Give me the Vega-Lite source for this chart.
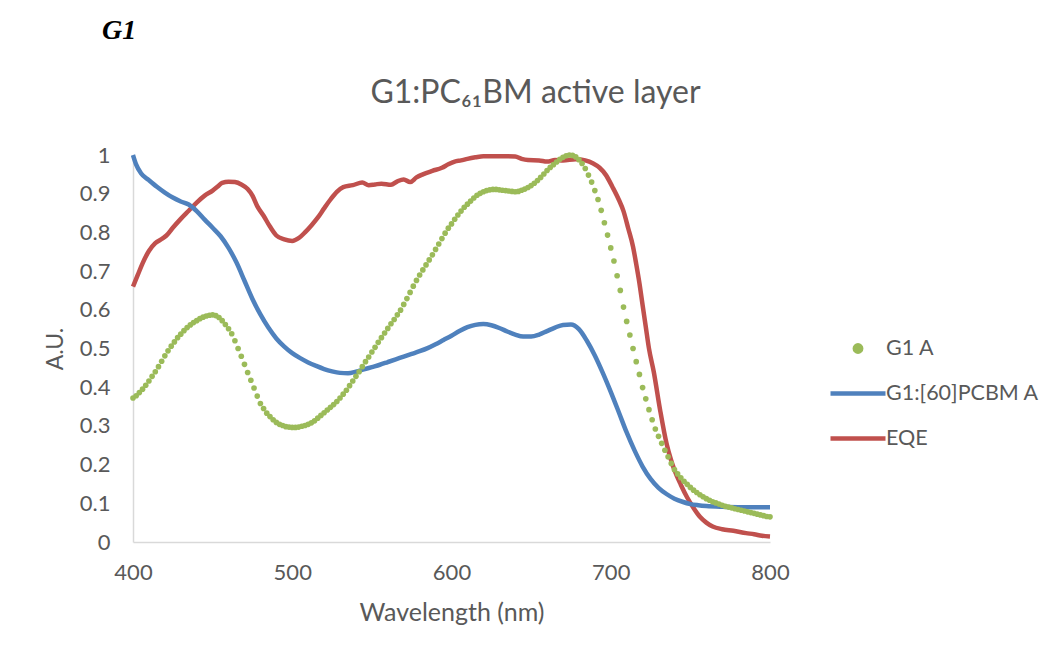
{
  "$schema": "https://vega.github.io/schema/vega-lite/v6.json",
  "autosize": {"type": "none"},
  "padding": {"left": 133, "top": 155, "right": 285, "bottom": 114},
  "background": "white",
  "width": 637,
  "height": 387,
  "title": {"text": "G1", "anchor": "start", "frame": "group", "font": "Liberation Serif", "fontSize": 28, "fontStyle": "italic", "fontWeight": "bold", "color": "#000000", "baseline": "alphabetic", "offset": 9, "dx": -31},
  "datasets": {
    "g1": [
      {"nm":400,"v":0.372},{"nm":402,"v":0.378},{"nm":404,"v":0.386},{"nm":406,"v":0.395},{"nm":408,"v":0.405},{"nm":410,"v":0.416},{"nm":412,"v":0.428},{"nm":414,"v":0.44},{"nm":416,"v":0.453},{"nm":418,"v":0.467},
      {"nm":420,"v":0.481},{"nm":422,"v":0.494},{"nm":424,"v":0.506},{"nm":426,"v":0.517},{"nm":428,"v":0.528},{"nm":430,"v":0.537},{"nm":432,"v":0.546},{"nm":434,"v":0.554},{"nm":436,"v":0.561},{"nm":438,"v":0.567},
      {"nm":440,"v":0.572},{"nm":442,"v":0.577},{"nm":444,"v":0.581},{"nm":446,"v":0.584},{"nm":448,"v":0.586},{"nm":450,"v":0.587},{"nm":452,"v":0.585},{"nm":454,"v":0.58},{"nm":456,"v":0.572},{"nm":458,"v":0.562},
      {"nm":460,"v":0.551},{"nm":462,"v":0.538},{"nm":464,"v":0.52},{"nm":466,"v":0.5},{"nm":468,"v":0.48},{"nm":470,"v":0.459},{"nm":472,"v":0.438},{"nm":474,"v":0.418},{"nm":476,"v":0.398},{"nm":478,"v":0.377},
      {"nm":480,"v":0.358},{"nm":482,"v":0.345},{"nm":484,"v":0.333},{"nm":486,"v":0.324},{"nm":488,"v":0.316},{"nm":490,"v":0.309},{"nm":492,"v":0.304},{"nm":494,"v":0.301},{"nm":496,"v":0.298},{"nm":498,"v":0.297},
      {"nm":500,"v":0.296},{"nm":502,"v":0.296},{"nm":504,"v":0.297},{"nm":506,"v":0.299},{"nm":508,"v":0.301},{"nm":510,"v":0.304},{"nm":512,"v":0.308},{"nm":514,"v":0.313},{"nm":516,"v":0.32},{"nm":518,"v":0.327},
      {"nm":520,"v":0.334},{"nm":522,"v":0.341},{"nm":524,"v":0.348},{"nm":526,"v":0.355},{"nm":528,"v":0.363},{"nm":530,"v":0.372},{"nm":532,"v":0.382},{"nm":534,"v":0.392},{"nm":536,"v":0.404},{"nm":538,"v":0.416},
      {"nm":540,"v":0.428},{"nm":542,"v":0.44},{"nm":544,"v":0.453},{"nm":546,"v":0.466},{"nm":548,"v":0.478},{"nm":550,"v":0.491},{"nm":552,"v":0.503},{"nm":554,"v":0.516},{"nm":556,"v":0.528},{"nm":558,"v":0.54},
      {"nm":560,"v":0.552},{"nm":562,"v":0.564},{"nm":564,"v":0.575},{"nm":566,"v":0.587},{"nm":568,"v":0.599},{"nm":570,"v":0.614},{"nm":572,"v":0.629},{"nm":574,"v":0.645},{"nm":576,"v":0.661},{"nm":578,"v":0.676},
      {"nm":580,"v":0.69},{"nm":582,"v":0.703},{"nm":584,"v":0.716},{"nm":586,"v":0.729},{"nm":588,"v":0.742},{"nm":590,"v":0.756},{"nm":592,"v":0.77},{"nm":594,"v":0.784},{"nm":596,"v":0.798},{"nm":598,"v":0.811},
      {"nm":600,"v":0.822},{"nm":602,"v":0.834},{"nm":604,"v":0.845},{"nm":606,"v":0.855},{"nm":608,"v":0.865},{"nm":610,"v":0.873},{"nm":612,"v":0.881},{"nm":614,"v":0.889},{"nm":616,"v":0.896},{"nm":618,"v":0.901},
      {"nm":620,"v":0.905},{"nm":622,"v":0.908},{"nm":624,"v":0.91},{"nm":626,"v":0.911},{"nm":628,"v":0.911},{"nm":630,"v":0.91},{"nm":632,"v":0.909},{"nm":634,"v":0.908},{"nm":636,"v":0.907},{"nm":638,"v":0.906},
      {"nm":640,"v":0.905},{"nm":642,"v":0.906},{"nm":644,"v":0.909},{"nm":646,"v":0.912},{"nm":648,"v":0.916},{"nm":650,"v":0.921},{"nm":652,"v":0.927},{"nm":654,"v":0.934},{"nm":656,"v":0.942},{"nm":658,"v":0.951},
      {"nm":660,"v":0.96},{"nm":662,"v":0.968},{"nm":664,"v":0.975},{"nm":666,"v":0.982},{"nm":668,"v":0.989},{"nm":670,"v":0.994},{"nm":672,"v":0.998},{"nm":674,"v":1.0},{"nm":676,"v":0.999},{"nm":678,"v":0.995},
      {"nm":680,"v":0.988},{"nm":682,"v":0.978},{"nm":684,"v":0.965},{"nm":686,"v":0.948},{"nm":688,"v":0.93},{"nm":690,"v":0.908},{"nm":692,"v":0.885},{"nm":694,"v":0.857},{"nm":696,"v":0.825},{"nm":698,"v":0.793},
      {"nm":700,"v":0.76},{"nm":702,"v":0.726},{"nm":704,"v":0.688},{"nm":706,"v":0.65},{"nm":708,"v":0.607},{"nm":710,"v":0.57},{"nm":712,"v":0.535},{"nm":714,"v":0.5},{"nm":716,"v":0.466},{"nm":718,"v":0.433},
      {"nm":720,"v":0.399},{"nm":722,"v":0.37},{"nm":724,"v":0.342},{"nm":726,"v":0.316},{"nm":728,"v":0.292},{"nm":730,"v":0.273},{"nm":732,"v":0.255},{"nm":734,"v":0.237},{"nm":736,"v":0.22},{"nm":738,"v":0.203},
      {"nm":740,"v":0.187},{"nm":742,"v":0.176},{"nm":744,"v":0.166},{"nm":746,"v":0.157},{"nm":748,"v":0.149},{"nm":750,"v":0.141},{"nm":752,"v":0.134},{"nm":754,"v":0.128},{"nm":756,"v":0.122},{"nm":758,"v":0.117},
      {"nm":760,"v":0.112},{"nm":762,"v":0.108},{"nm":764,"v":0.104},{"nm":766,"v":0.101},{"nm":768,"v":0.098},{"nm":770,"v":0.095},{"nm":772,"v":0.092},{"nm":774,"v":0.09},{"nm":776,"v":0.088},{"nm":778,"v":0.086},
      {"nm":780,"v":0.084},{"nm":782,"v":0.082},{"nm":784,"v":0.08},{"nm":786,"v":0.078},{"nm":788,"v":0.076},{"nm":790,"v":0.074},{"nm":792,"v":0.072},{"nm":794,"v":0.07},{"nm":796,"v":0.068},{"nm":798,"v":0.066},
      {"nm":800,"v":0.065}
    ],
    "pcbm": [
      {"nm":400,"v":1.0},{"nm":402,"v":0.975},{"nm":405,"v":0.953},{"nm":410,"v":0.935},{"nm":415,"v":0.918},{"nm":420,"v":0.903},{"nm":425,"v":0.89},{"nm":430,"v":0.88},{"nm":435,"v":0.872},{"nm":440,"v":0.855},
      {"nm":445,"v":0.833},{"nm":450,"v":0.812},{"nm":455,"v":0.79},{"nm":460,"v":0.76},{"nm":465,"v":0.722},{"nm":470,"v":0.675},{"nm":475,"v":0.628},{"nm":480,"v":0.588},{"nm":485,"v":0.554},{"nm":490,"v":0.526},
      {"nm":495,"v":0.505},{"nm":500,"v":0.488},{"nm":505,"v":0.475},{"nm":510,"v":0.464},{"nm":515,"v":0.455},{"nm":520,"v":0.447},{"nm":525,"v":0.441},{"nm":530,"v":0.437},{"nm":535,"v":0.436},{"nm":540,"v":0.44},
      {"nm":545,"v":0.446},{"nm":550,"v":0.452},{"nm":555,"v":0.458},{"nm":560,"v":0.465},{"nm":565,"v":0.472},{"nm":570,"v":0.479},{"nm":575,"v":0.486},{"nm":580,"v":0.493},{"nm":585,"v":0.501},{"nm":590,"v":0.511},
      {"nm":595,"v":0.522},{"nm":600,"v":0.533},{"nm":605,"v":0.545},{"nm":610,"v":0.555},{"nm":615,"v":0.561},{"nm":620,"v":0.563},{"nm":625,"v":0.56},{"nm":630,"v":0.553},{"nm":635,"v":0.544},{"nm":640,"v":0.536},
      {"nm":645,"v":0.531},{"nm":650,"v":0.531},{"nm":655,"v":0.536},{"nm":660,"v":0.545},{"nm":665,"v":0.554},{"nm":670,"v":0.561},{"nm":675,"v":0.562},{"nm":680,"v":0.55},{"nm":685,"v":0.52},{"nm":690,"v":0.482},
      {"nm":695,"v":0.437},{"nm":700,"v":0.388},{"nm":705,"v":0.336},{"nm":710,"v":0.283},{"nm":715,"v":0.236},{"nm":720,"v":0.195},{"nm":725,"v":0.163},{"nm":730,"v":0.14},{"nm":735,"v":0.124},{"nm":740,"v":0.112},
      {"nm":745,"v":0.104},{"nm":750,"v":0.098},{"nm":755,"v":0.095},{"nm":760,"v":0.093},{"nm":770,"v":0.091},{"nm":780,"v":0.09},{"nm":790,"v":0.09},{"nm":800,"v":0.09}
    ],
    "eqe": [
      {"nm":400,"v":0.66},{"nm":403,"v":0.69},{"nm":406,"v":0.72},{"nm":410,"v":0.752},{"nm":414,"v":0.772},{"nm":418,"v":0.783},{"nm":421,"v":0.792},{"nm":425,"v":0.812},{"nm":430,"v":0.835},{"nm":435,"v":0.856},
      {"nm":440,"v":0.877},{"nm":445,"v":0.895},{"nm":450,"v":0.908},{"nm":453,"v":0.918},{"nm":456,"v":0.928},{"nm":460,"v":0.931},{"nm":464,"v":0.93},{"nm":468,"v":0.924},{"nm":472,"v":0.912},{"nm":475,"v":0.895},
      {"nm":478,"v":0.868},{"nm":482,"v":0.843},{"nm":486,"v":0.815},{"nm":490,"v":0.792},{"nm":495,"v":0.782},{"nm":500,"v":0.778},{"nm":504,"v":0.785},{"nm":508,"v":0.8},{"nm":512,"v":0.818},{"nm":516,"v":0.838},
      {"nm":520,"v":0.862},{"nm":524,"v":0.885},{"nm":528,"v":0.905},{"nm":532,"v":0.917},{"nm":538,"v":0.922},{"nm":544,"v":0.929},{"nm":548,"v":0.922},{"nm":552,"v":0.924},{"nm":556,"v":0.926},{"nm":562,"v":0.923},
      {"nm":566,"v":0.932},{"nm":570,"v":0.937},{"nm":574,"v":0.93},{"nm":578,"v":0.942},{"nm":582,"v":0.95},{"nm":588,"v":0.959},{"nm":594,"v":0.967},{"nm":598,"v":0.976},{"nm":602,"v":0.983},{"nm":606,"v":0.986},
      {"nm":610,"v":0.99},{"nm":615,"v":0.994},{"nm":620,"v":0.997},{"nm":630,"v":0.997},{"nm":640,"v":0.996},{"nm":644,"v":0.99},{"nm":648,"v":0.987},{"nm":655,"v":0.986},{"nm":660,"v":0.983},{"nm":665,"v":0.987},
      {"nm":670,"v":0.986},{"nm":678,"v":0.989},{"nm":684,"v":0.986},{"nm":689,"v":0.978},{"nm":693,"v":0.967},{"nm":697,"v":0.948},{"nm":701,"v":0.918},{"nm":705,"v":0.885},{"nm":708,"v":0.855},{"nm":711,"v":0.81},
      {"nm":714,"v":0.763},{"nm":716,"v":0.718},{"nm":718,"v":0.669},{"nm":720,"v":0.612},{"nm":722,"v":0.556},{"nm":724,"v":0.5},{"nm":727,"v":0.44},{"nm":731,"v":0.341},{"nm":735,"v":0.255},{"nm":738,"v":0.21},
      {"nm":740,"v":0.186},{"nm":744,"v":0.148},{"nm":748,"v":0.115},{"nm":752,"v":0.088},{"nm":756,"v":0.065},{"nm":760,"v":0.05},{"nm":764,"v":0.04},{"nm":770,"v":0.033},{"nm":777,"v":0.029},{"nm":785,"v":0.023},
      {"nm":790,"v":0.02},{"nm":795,"v":0.016},{"nm":800,"v":0.014}
    ]
  },
  "encoding": {
    "y": {
      "field": "v", "type": "quantitative", "title": "A.U.",
      "scale": {"domain": [0, 1], "nice": false, "zero": true},
      "axis": {"values": [0, 0.1, 0.2, 0.3, 0.4, 0.5, 0.6, 0.7, 0.8, 0.9, 1], "format": "~g", "labelPadding": 23, "titlePadding": 12}
    }
  },
  "layer": [
    {
      "data": {"name": "eqe"},
      "mark": {"type": "line", "interpolate": "monotone", "strokeWidth": 4.5},
      "encoding": {
        "x": {
          "field": "nm", "type": "quantitative", "title": "Wavelength (nm)",
          "scale": {"domain": [400, 800], "nice": false, "zero": false},
          "axis": {"orient": "bottom", "values": [400, 500, 600, 700, 800], "labelFlush": false, "labelPadding": 20, "titlePadding": 17, "titleFontSize": 25}
        },
        "color": {
          "datum": "EQE", "type": "nominal",
          "scale": {"domain": ["G1 A", "G1:[60]PCBM A", "EQE"], "range": ["#9BBB59", "#4F81BD", "#C0504D"]},
          "legend": {
            "orient": "none", "legendX": 695, "legendY": 171, "title": null,
            "symbolType": "stroke", "symbolSize": 3025, "symbolStrokeWidth": 4.5,
            "labelFont": "Lato", "labelFontSize": 21.5, "labelColor": "#595959", "labelOffset": -2,
            "clipHeight": 45, "rowPadding": 0, "padding": 0,
            "encode": {
              "symbols": {
                "update": {
                  "shape": {"signal": "datum.label === 'G1 A' ? 'M-0.116,0A0.116,0.116,0,1,0,0.116,0A0.116,0.116,0,1,0,-0.116,0Z' : 'stroke'"},
                  "fill": {"signal": "datum.label === 'G1 A' ? '#9BBB59' : 'transparent'"},
                  "stroke": {"signal": "datum.label === 'G1 A' ? 'transparent' : (datum.label === 'EQE' ? '#C0504D' : '#4F81BD')"},
                  "opacity": {"value": 1}
                }
              }
            }
          }
        }
      }
    },
    {
      "data": {"name": "pcbm"},
      "mark": {"type": "line", "interpolate": "monotone", "strokeWidth": 4.5},
      "encoding": {
        "x": {"field": "nm", "type": "quantitative", "axis": null},
        "color": {"datum": "G1:[60]PCBM A", "type": "nominal"}
      }
    },
    {
      "data": {"name": "g1"},
      "mark": {"type": "circle", "size": 32, "opacity": 1},
      "encoding": {
        "x": {
          "field": "nm", "type": "quantitative",
          "axis": {"orient": "top", "labels": false, "ticks": false, "domain": false, "title": "G1:PC₆₁BM active layer",
                   "titleFont": "Lato", "titleFontSize": 32, "titleColor": "#595959", "titleFontWeight": "normal",
                   "titleX": 402, "titleY": -53, "titleAlign": "center", "titleBaseline": "alphabetic", "titleAngle": 0}
        },
        "color": {"datum": "G1 A", "type": "nominal"}
      }
    }
  ],
  "resolve": {"axis": {"x": "independent"}},
  "config": {
    "font": "Lato",
    "view": {"stroke": null},
    "axis": {
      "grid": false, "ticks": false,
      "domainColor": "#D9D9D9", "domainWidth": 1.5,
      "labelColor": "#595959", "labelFont": "Lato", "labelFontSize": 22,
      "titleColor": "#595959", "titleFont": "Lato", "titleFontSize": 23, "titleFontWeight": "normal"
    }
  }
}
